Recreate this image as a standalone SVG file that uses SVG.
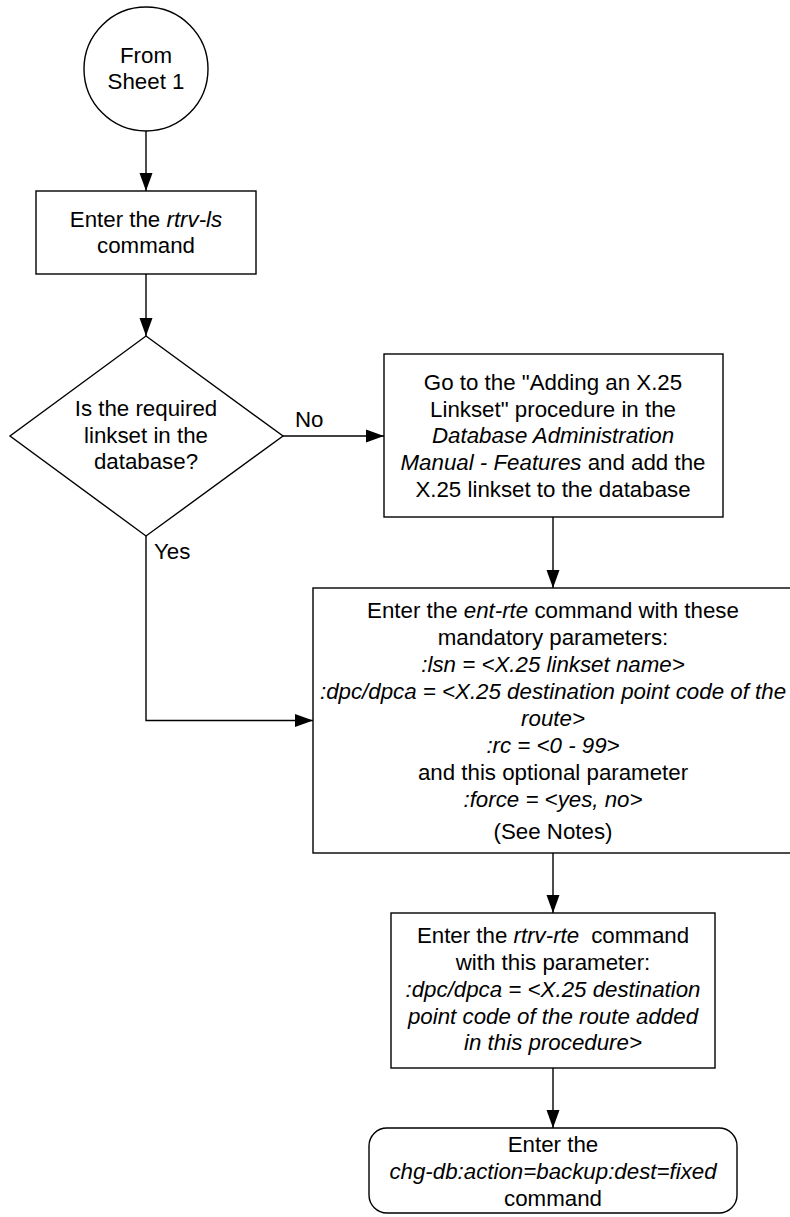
<svg xmlns="http://www.w3.org/2000/svg" width="790" height="1217" viewBox="0 0 790 1217">
<style>
.s{fill:#fff;stroke:#000;stroke-width:1.4}
.c{fill:none;stroke:#000;stroke-width:1.4}
text{font-family:"Liberation Sans",Arial,sans-serif;font-size:22.3px;fill:#000;text-anchor:middle}
.i{font-style:italic}
.l{text-anchor:start}
</style>
<defs>
<marker id="ah" markerUnits="userSpaceOnUse" markerWidth="18" markerHeight="14" refX="18" refY="7" orient="auto">
<path d="M0,0.5 L18,7 L0,13.5 Z" fill="#000"/>
</marker>
</defs>
<rect width="790" height="1217" fill="#fff"/>
<g id="connectors">
<line class="c" x1="146" y1="131" x2="146" y2="191" marker-end="url(#ah)"/>
<line class="c" x1="146" y1="274" x2="146" y2="336" marker-end="url(#ah)"/>
<line class="c" x1="283" y1="436" x2="384" y2="436" marker-end="url(#ah)"/>
<polyline class="c" points="146,536 146,720.5 313,720.5" marker-end="url(#ah)"/>
<line class="c" x1="553" y1="517" x2="553" y2="588" marker-end="url(#ah)"/>
<line class="c" x1="553" y1="853" x2="553" y2="913" marker-end="url(#ah)"/>
<line class="c" x1="553" y1="1068" x2="553" y2="1128" marker-end="url(#ah)"/>
<text class="l" x="295" y="427">No</text>
<text class="l" x="154" y="559">Yes</text>
</g>
<g id="start">
<circle class="s" cx="146" cy="69" r="62"/>
<text x="146" y="63">From</text>
<text x="146" y="89">Sheet 1</text>
</g>
<g id="rtrv-ls">
<rect class="s" x="36" y="191" width="220" height="83"/>
<text x="146" y="227">Enter the <tspan class="i">rtrv-ls</tspan></text>
<text x="146" y="253">command</text>
</g>
<g id="decision">
<polygon class="s" points="146,336 283,436 146,536 10,436"/>
<text x="146" y="416">Is the required</text>
<text x="146" y="443">linkset in the</text>
<text x="146" y="469">database?</text>
</g>
<g id="add-linkset">
<rect class="s" x="384" y="354" width="339" height="163"/>
<text x="553" y="390">Go to the "Adding an X.25</text>
<text x="553" y="417">Linkset" procedure in the</text>
<text x="553" y="443" class="i">Database Administration</text>
<text x="553" y="470"><tspan class="i">Manual - Features</tspan> and add the</text>
<text x="553" y="497">X.25 linkset to the database</text>
</g>
<g id="ent-rte">
<rect class="s" x="313" y="588" width="480" height="265"/>
<text x="553" y="618">Enter the <tspan class="i">ent-rte</tspan> command with these</text>
<text x="553" y="645">mandatory parameters:</text>
<text x="553" y="672" class="i">:lsn = &lt;X.25 linkset name&gt;</text>
<text x="553" y="699" class="i">:dpc/dpca = &lt;X.25 destination point code of the</text>
<text x="553" y="726" class="i">route&gt;</text>
<text x="553" y="753" class="i">:rc = &lt;0 - 99&gt;</text>
<text x="553" y="780">and this optional parameter</text>
<text x="553" y="807" class="i">:force = &lt;yes, no&gt;</text>
<text x="553" y="839">(See Notes)</text>
</g>
<g id="rtrv-rte">
<rect class="s" x="391" y="913" width="324" height="155"/>
<text x="553" y="943">Enter the <tspan class="i">rtrv-rte</tspan><tspan dx="12">command</tspan></text>
<text x="553" y="970">with this parameter:</text>
<text x="553" y="997" class="i">:dpc/dpca = &lt;X.25 destination</text>
<text x="553" y="1024" class="i">point code of the route added</text>
<text x="553" y="1050" class="i">in this procedure&gt;</text>
</g>
<g id="backup">
<rect class="s" x="369" y="1128" width="368" height="85" rx="18" ry="18"/>
<text x="553" y="1152">Enter the</text>
<text x="553" y="1179" class="i">chg-db:action=backup:dest=fixed</text>
<text x="553" y="1206">command</text>
</g>
</svg>
